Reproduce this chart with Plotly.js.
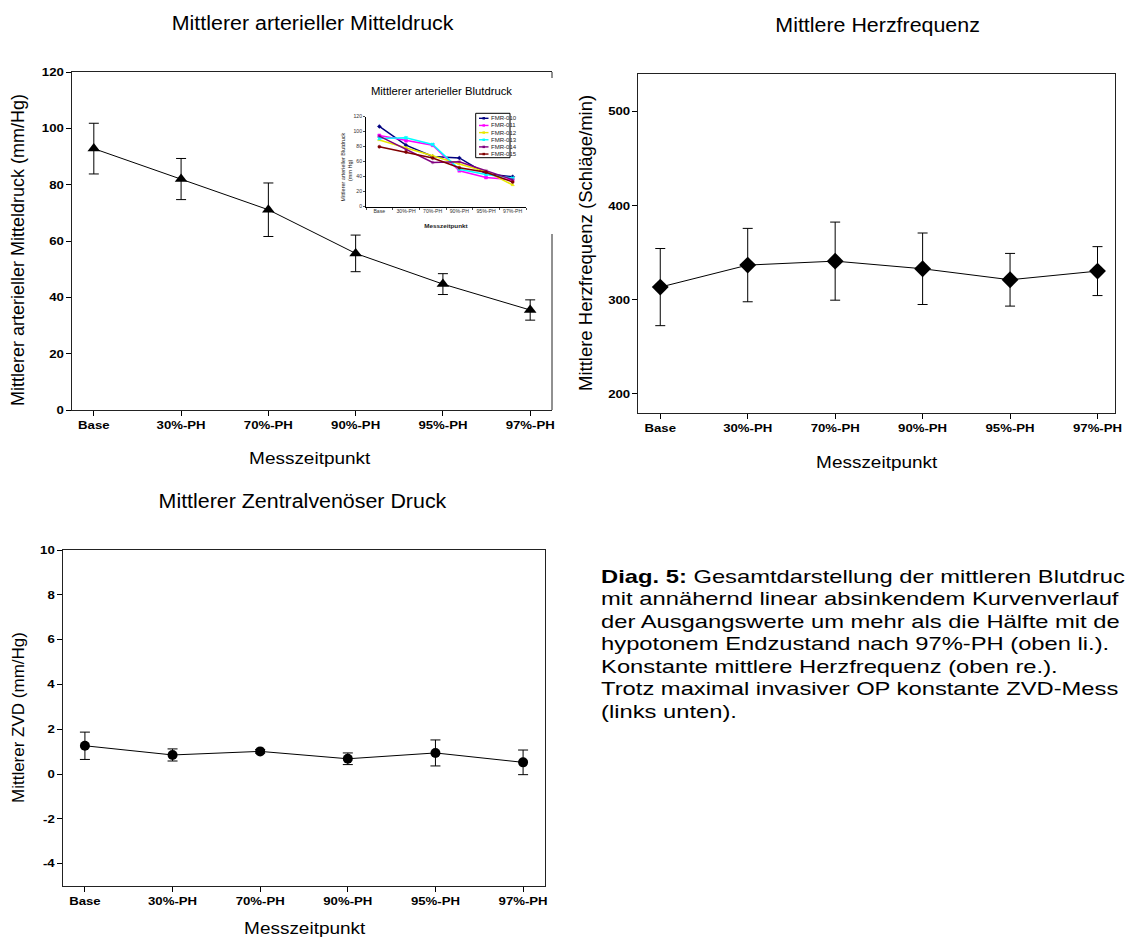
<!DOCTYPE html>
<html>
<head>
<meta charset="utf-8">
<script src="https://cdn.plot.ly/plotly-3.0.1.min.js"></script>
<style>
html,body{margin:0;padding:0;background:#fff;}
#chart{width:1126px;height:943px;}
</style>
</head>
<body>
<div id="chart"></div>
<script>
// ---------- data ----------
const categories = ['Base', '30%-PH', '70%-PH', '90%-PH', '95%-PH', '97%-PH'];
const mapMean = [92.8, 82.0, 71.1, 55.6, 44.7, 35.5];
const mapErr  = [9.0, 7.3, 9.5, 6.5, 3.7, 3.6];
const hrMean  = [313.5, 336.9, 341.1, 333.0, 321.3, 330.5];
const hrErr   = [41, 39, 41.5, 38, 28, 26];
const zvdMean = [1.26, 0.85, 1.01, 0.68, 0.94, 0.52];
const zvdErr  = [0.61, 0.27, 0.08, 0.26, 0.58, 0.55];
const zvdTickVals = [-4, -2, 0, 2, 4, 6, 8, 10];
const zvdTickText = ['-4', '-2', '0', '2', '4', '6', '8', '10'];

const fmrNames = ['FMR-010', 'FMR-011', 'FMR-012', 'FMR-013', 'FMR-014', 'FMR-015'];
const fmr010 = [107, 82, 67, 65, 44, 40];
const fmr011 = [95, 88, 82, 48, 39, 36];
const fmr012 = [89, 79, 68, 57, 47, 29];
const fmr013 = [91, 92, 83, 50, 43, 38];
const fmr014 = [94, 76, 59, 60, 48, 36];
const fmr015 = [80, 73, 65, 52, 46, 33];
const fmrSeries = [fmr010, fmr011, fmr012, fmr013, fmr014, fmr015];
const fmrColors = ['#000080', '#FF00FF', '#E8E800', '#00FFFF', '#800080', '#800000'];
const fmrSymbols = ['diamond', 'square', 'triangle-up', 'x', 'asterisk', 'circle'];

const titleMAP = 'Mittlerer arterieller Mitteldruck';
const titleHR = 'Mittlere Herzfrequenz';
const titleZVD = 'Mittlerer Zentralvenöser Druck';
const titleInset = 'Mittlerer arterieller Blutdruck';
const yTitleMAP = 'Mittlerer arterieller Mitteldruck (mm/Hg)';
const yTitleHR = 'Mittlere Herzfrequenz (Schläge/min)';
const yTitleZVD = 'Mittlerer ZVD (mm/Hg)';
const yTitleInset = ['Mittlerer arterieller Blutdruck', '(mm Hg)'];
const xTitle = 'Messzeitpunkt';
const captionLines = [
  '<b>Diag. 5:</b> Gesamtdarstellung der mittleren Blutdruc',
  'mit annähernd linear absinkendem Kurvenverlauf',
  'der Ausgangswerte um mehr als die Hälfte mit de',
  'hypotonem Endzustand nach 97%-PH (oben li.).',
  'Konstante mittlere Herzfrequenz (oben re.).',
  'Trotz maximal invasiver OP konstante ZVD-Mess',
  '(links unten).'
];

// ---------- helpers ----------
const W = 1126, H = 943;
const FONT = 'Liberation Sans, Arial, Helvetica, sans-serif';
const px = v => v / W;
const py = v => 1 - v / H;

function meanTrace(y, err, sym, size, xa, ya) {
  return {
    x: categories, y: y, xaxis: xa, yaxis: ya, type: 'scatter', mode: 'lines+markers',
    line: {color: '#000', width: 1},
    marker: {symbol: sym, size: size, color: '#000'},
    error_y: {type: 'data', array: err, visible: true, color: '#000', thickness: 1, width: 5},
    hoverinfo: 'skip', showlegend: false
  };
}

const traces = [
  meanTrace(mapMean, mapErr, 'triangle-up', 11, 'x', 'y'),
  meanTrace(hrMean, hrErr, 'diamond', 13, 'x2', 'y2'),
  meanTrace(zvdMean, zvdErr, 'circle', 10, 'x3', 'y3')
];
fmrSeries.forEach((s, i) => {
  traces.push({
    x: categories, y: s, xaxis: 'x4', yaxis: 'y4', type: 'scatter', mode: 'lines+markers',
    name: fmrNames[i],
    line: {color: fmrColors[i], width: 1.5},
    marker: {symbol: fmrSymbols[i], size: 3, color: fmrColors[i], line: {color: fmrColors[i], width: 0.5}},
    hoverinfo: 'skip', showlegend: false
  });
});

const tickFontBold = {family: FONT, size: 11, color: '#000', weight: 'bold'};

function xAxis(domain, range, anchor) {
  return {
    domain: domain, anchor: anchor, type: 'category', range: range,
    showline: true, linecolor: '#222', linewidth: 1, mirror: true,
    ticks: 'outside', ticklen: 5, tickcolor: '#000', tickwidth: 1,
    tickfont: tickFontBold, showgrid: false, zeroline: false, fixedrange: true
  };
}
function yAxis(domain, range, dtick, anchor, mirror) {
  return {
    domain: domain, anchor: anchor, range: range, dtick: dtick,
    showline: true, linecolor: '#222', linewidth: 1, mirror: mirror,
    ticks: 'outside', ticklen: 5, tickcolor: '#000', tickwidth: 1,
    tickfont: tickFontBold, showgrid: false, zeroline: false, fixedrange: true
  };
}

const annotations = [];
const stretch = [];
function addText(text, x, y, size, opts, s, origin) {
  annotations.push(Object.assign({
    text: text, x: px(x), y: py(y), xref: 'paper', yref: 'paper',
    showarrow: false, font: {family: FONT, size: size, color: '#000'},
    xanchor: 'center', yanchor: 'middle'
  }, opts || {}));
  stretch.push({s: s || 1, origin: origin || 'center'});
}

// chart titles
addText(titleMAP, 312.5, 23, 20, null, 1.07);
addText(titleHR, 877, 25, 20, null, 1.07);
addText(titleZVD, 303, 501, 20, null, 1.07);
// axis titles
addText(xTitle, 310, 458, 16.5, null, 1.15);
addText(xTitle, 877, 462, 16.5, null, 1.15);
addText(xTitle, 305, 928, 16.5, null, 1.15);
addText(yTitleMAP, 18, 250, 18, {textangle: -90});
addText(yTitleHR, 586, 243, 18.5, {textangle: -90});
addText(yTitleZVD, 18, 718, 17, {textangle: -90});
// inset texts
addText(titleInset, 442.5, 92, 10, null, 1.13);
addText(yTitleInset[0], 342.5, 167, 5.5, {textangle: -90, font: {family: FONT, size: 5.5, color: '#222'}});
addText(yTitleInset[1], 350, 170, 5.5, {textangle: -90, font: {family: FONT, size: 5.5, color: '#222'}});
addText(xTitle, 446, 226, 5.5, {font: {family: FONT, size: 5.5, color: '#222', weight: 'bold'}}, 1.15);

// caption
captionLines.forEach((t, i) => {
  addText(t, 599, 576 + i * 22.5, 19, {xanchor: 'left'}, 1.25, 'left');
});

// inset legend
const shapes = [];
const legX0 = 475.7, legX1 = 510, legY0 = 113.3, legY1 = 157.7;
shapes.push({type: 'rect', xref: 'paper', yref: 'paper', x0: px(legX0), x1: px(legX1), y0: py(legY0), y1: py(legY1),
  line: {color: '#000', width: 1}, fillcolor: '#fff', layer: 'above'});
fmrNames.forEach((n, i) => {
  const yy = 118.3 + i * 7.15;
  shapes.push({type: 'line', xref: 'paper', yref: 'paper', x0: px(479), x1: px(488.5), y0: py(yy), y1: py(yy),
    line: {color: fmrColors[i], width: 1.4}, layer: 'above'});
  shapes.push({type: 'rect', xref: 'paper', yref: 'paper', x0: px(482.5), x1: px(485), y0: py(yy - 1.2), y1: py(yy + 1.2),
    line: {width: 0}, fillcolor: fmrColors[i], layer: 'above'});
  addText(n, 489.3, yy, 5.5, {xanchor: 'left', font: {family: FONT, size: 5.5, color: '#222'}}, 1.1, 'left');
});

// main chart 1 right frame, interrupted by the inset
shapes.push({type: 'line', xref: 'paper', yref: 'paper', x0: px(552), x1: px(552), y0: py(72), y1: py(78),
  line: {color: '#222', width: 1}});
shapes.push({type: 'line', xref: 'paper', yref: 'paper', x0: px(552), x1: px(552), y0: py(234), y1: py(410),
  line: {color: '#222', width: 1}});

const yaxis3 = yAxis([py(886), py(550)], [-5, 10], 2, 'x3', true);
yaxis3.tickmode = 'array';
yaxis3.tickvals = zvdTickVals;
yaxis3.ticktext = zvdTickText;

const layout = {
  width: W, height: H, margin: {l: 0, r: 0, t: 0, b: 0, pad: 0},
  paper_bgcolor: '#fff', plot_bgcolor: 'rgba(0,0,0,0)',
  showlegend: false, font: {family: FONT, color: '#000'},
  xaxis: xAxis([px(72), px(552)], [-0.25, 5.25], 'y'),
  yaxis: yAxis([py(410), py(72)], [0, 120], 20, 'x', false),
  xaxis2: xAxis([px(638.4), px(1115)], [-0.25, 5.2], 'y2'),
  yaxis2: yAxis([py(412.7), py(74)], [180, 540], 100, 'x2', true),
  xaxis3: xAxis([px(63), px(545)], [-0.25, 5.25], 'y3'),
  yaxis3: yaxis3,
  xaxis4: {
    domain: [px(366), px(526)], anchor: 'y4', type: 'category', range: [-0.5, 5.5],
    tickson: 'boundaries', showline: true, linecolor: '#000', linewidth: 1,
    ticks: 'outside', ticklen: 2, tickcolor: '#000', tickwidth: 0.7,
    tickfont: {family: FONT, size: 4.5, color: '#333'}, showgrid: false, zeroline: false, fixedrange: true
  },
  yaxis4: {
    domain: [py(206.7), py(116.7)], anchor: 'x4', range: [0, 120], dtick: 20,
    showline: true, linecolor: '#000', linewidth: 1,
    ticks: 'outside', ticklen: 2, tickcolor: '#000', tickwidth: 0.7,
    tickfont: {family: FONT, size: 4.5, color: '#333'}, showgrid: false, zeroline: false, fixedrange: true
  },
  annotations: annotations,
  shapes: shapes
};

function stretchText(el, s, origin) {
  if (!el || s === 1) return;
  const bb = el.getBBox();
  const ox = origin === 'left' ? bb.x : (origin === 'right' ? bb.x + bb.width : bb.x + bb.width / 2);
  const oy = bb.y + bb.height / 2;
  const prev = el.getAttribute('transform') || '';
  el.setAttribute('transform', prev + ' translate(' + ox + ',' + oy + ') scale(' + s + ',1) translate(' + (-ox) + ',' + (-oy) + ')');
}

Plotly.newPlot('chart', traces, layout, {staticPlot: true, displayModeBar: false}).then(gd => {
  stretch.forEach((st, i) => {
    const el = gd.querySelector('.annotation[data-index="' + i + '"] text.annotation-text');
    stretchText(el, st.s, st.origin);
  });
  gd.querySelectorAll('.xtick text, .x2tick text, .x3tick text').forEach(el => stretchText(el, 1.2, 'center'));
  gd.querySelectorAll('.ytick text, .y2tick text, .y3tick text').forEach(el => stretchText(el, 1.2, 'right'));
  gd.querySelectorAll('.x4tick text').forEach(el => stretchText(el, 1.15, 'center'));
  gd.querySelectorAll('.y4tick text').forEach(el => stretchText(el, 1.15, 'right'));
});
</script>
</body>
</html>
